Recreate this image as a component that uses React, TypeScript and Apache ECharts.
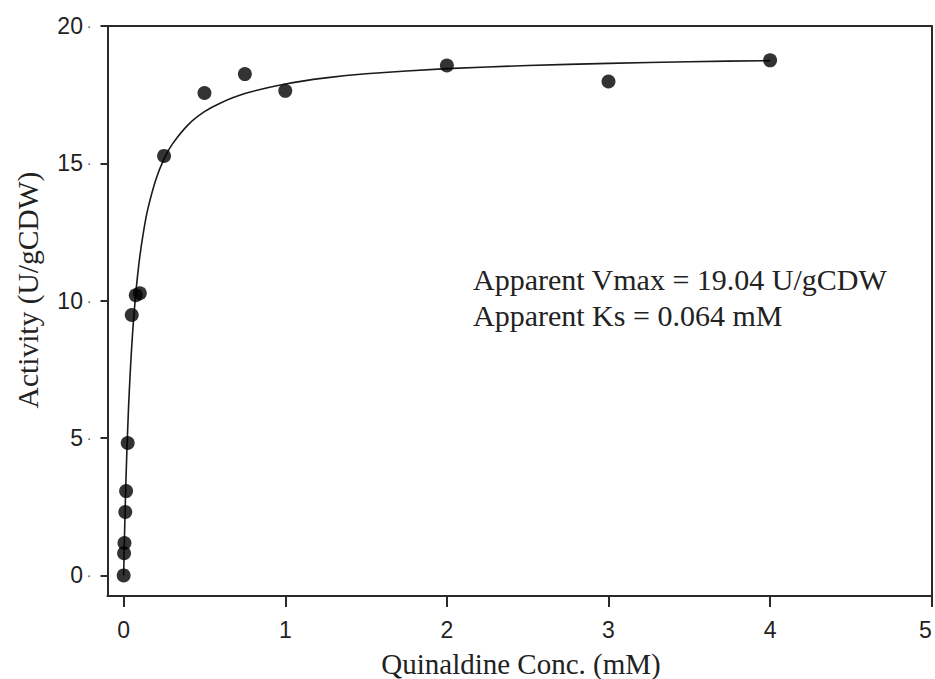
import React, { useEffect, useRef } from "react";
import * as echarts from "echarts";

// Measured data points (Quinaldine conc. mM, activity U/gCDW)
const concX = [0, 0.0025, 0.005, 0.01, 0.015, 0.025, 0.05, 0.075, 0.1, 0.25, 0.5, 0.75, 1, 2, 3, 4];
const activityY = [0, 0.81, 1.18, 2.31, 3.07, 4.82, 9.48, 10.2, 10.27, 15.27, 17.56, 18.25, 17.64, 18.56, 17.98, 18.75];

// Fitted curve
const fitX = [0, 0.0025, 0.005, 0.01, 0.015, 0.02, 0.03, 0.04, 0.05, 0.06, 0.075, 0.1, 0.125, 0.15, 0.2, 0.25, 0.3, 0.4, 0.5, 0.6, 0.75, 1, 1.25, 1.5, 2, 2.5, 3, 3.5, 4];
const fitY = [0, 0.72, 1.38, 2.57, 3.62, 4.53, 6.08, 7.32, 8.35, 9.21, 10.27, 11.61, 12.59, 13.35, 14.42, 15.16, 15.69, 16.41, 16.88, 17.2, 17.54, 17.89, 18.11, 18.26, 18.45, 18.56, 18.64, 18.7, 18.74];

const xTicks = [0, 1, 2, 3, 4, 5];
const yTicks = [0, 5, 10, 15, 20];

const annotationLines = ["Apparent Vmax = 19.04 U/gCDW", "Apparent Ks = 0.064 mM"];
const xTitle = "Quinaldine Conc. (mM)";
const yTitle = "Activity (U/gCDW)";

export default function App() {
  const ref = useRef<HTMLDivElement>(null);
  useEffect(() => {
    document.body.style.margin = "0";
    document.documentElement.style.overflow = "hidden";
    const chart = echarts.init(ref.current!, null, { renderer: "svg" });
    const axisColor = "#2a2a2a";
    const serif = "'Liberation Serif', 'Times New Roman', serif";
    const sans = "'Liberation Sans', Arial, sans-serif";
    chart.setOption({
      animation: false,
      backgroundColor: "#ffffff",
      grid: { left: 107.5, right: 3.3, top: 26, bottom: 83, containLabel: false, outerBoundsMode: "none" },
      xAxis: [
        {
          type: "value",
          min: -0.1,
          max: 5,
          splitLine: { show: false },
          axisLine: { show: true, onZero: false, lineStyle: { color: axisColor, width: 2 } },
          axisTick: { show: true, customValues: xTicks, length: 11, inside: false, lineStyle: { color: axisColor, width: 2 } },
          axisLabel: {
            customValues: xTicks,
            margin: 22,
            color: "#222",
            fontFamily: sans,
            fontSize: 23,
            hideOverlap: false,
            alignMaxLabel: "right",
          },
        },
        {
          type: "value",
          position: "top",
          min: -0.1,
          max: 5,
          splitLine: { show: false },
          axisLine: { show: true, onZero: false, lineStyle: { color: axisColor, width: 2 } },
          axisTick: { show: false },
          axisLabel: { show: false },
        },
      ],
      yAxis: [
        {
          type: "value",
          min: -0.75,
          max: 20,
          splitLine: { show: false },
          axisLine: { show: true, onZero: false, lineStyle: { color: axisColor, width: 2 } },
          axisTick: { show: true, customValues: yTicks, length: 7, lineStyle: { color: axisColor, width: 2 } },
          axisLabel: {
            customValues: yTicks,
            margin: 16,
            formatter: (v: number) => `{n|${v}}{d| ·}`,
            rich: {
              n: { color: "#222", fontFamily: sans, fontSize: 23 },
              d: { color: "#555", fontFamily: sans, fontSize: 14 },
            },
          },
        },
        {
          type: "value",
          position: "right",
          min: -0.75,
          max: 20,
          splitLine: { show: false },
          axisLine: { show: true, onZero: false, lineStyle: { color: axisColor, width: 2 } },
          axisTick: { show: false },
          axisLabel: { show: false },
        },
      ],
      series: [
        {
          type: "line",
          data: fitX.map((x, i) => [x, fitY[i]]),
          showSymbol: false,
          symbol: "none",
          smooth: 0.2,
          lineStyle: { color: "#1a1a1a", width: 1.6 },
          z: 2,
        },
        {
          type: "scatter",
          data: concX.map((x, i) => [x, activityY[i]]),
          symbol: "circle",
          symbolSize: 14,
          itemStyle: { color: "#000000" },
          z: 3,
        },
      ],
      graphic: [
        {
          type: "text",
          x: 521,
          y: 664,
          style: { text: xTitle, font: `29px ${serif}`, fill: "#222", align: "center", verticalAlign: "middle" },
        },
        {
          type: "text",
          x: 28,
          y: 290,
          rotation: Math.PI / 2,
          style: { text: yTitle, font: `29.5px ${serif}`, fill: "#222", align: "center", verticalAlign: "middle" },
        },
        {
          type: "text",
          x: 473,
          y: 279,
          style: { text: annotationLines[0], font: `30px ${serif}`, fill: "#222", align: "left", verticalAlign: "middle" },
        },
        {
          type: "text",
          x: 473,
          y: 315,
          style: { text: annotationLines[1], font: `30px ${serif}`, fill: "#222", align: "left", verticalAlign: "middle" },
        },
      ],
    });
    return () => chart.dispose();
  }, []);
  return <div ref={ref} style={{ position: "fixed", left: 0, top: 0, width: 935, height: 679 }} />;
}
